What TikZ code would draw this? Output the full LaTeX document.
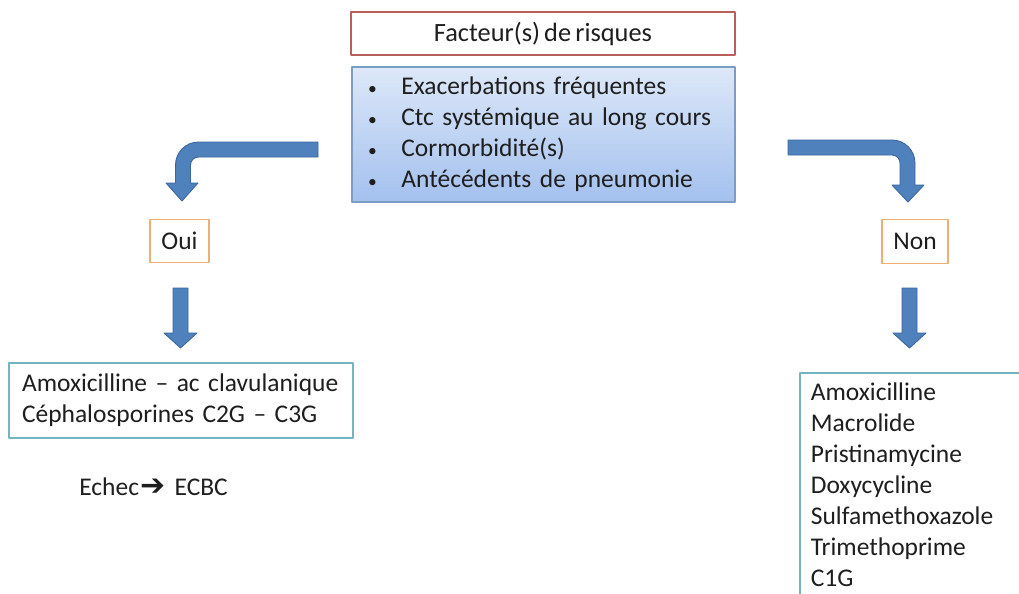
\documentclass[tikz,border=0pt]{standalone}
\usepackage{fontspec}
\setmainfont{Carlito}[WordSpace=0.7]
\newfontfamily\symbfont{DejaVu Sans}
\definecolor{arrowblue}{HTML}{4F81BD}
\definecolor{arrowedge}{HTML}{3A679E}
\definecolor{riskred}{HTML}{B9605C}
\definecolor{factTop}{HTML}{DDE8F8}
\definecolor{factBot}{HTML}{A3C0EE}
\definecolor{factEdge}{HTML}{7C9CC4}
\definecolor{answerorange}{HTML}{EFAE74}
\definecolor{treatteal}{HTML}{72B4BF}
\definecolor{textgray}{HTML}{1E1E1E}
\newcommand\factbullet{\makebox[19pt][l]{\fontsize{10}{10}\selectfont\textbullet}}
\begin{document}
\begin{tikzpicture}[x=0.02cm,y=-0.02cm,line join=round,
	every node/.style={text=textgray,font=\fontsize{14.5}{17.6}\selectfont},
	riskbox/.style={draw=riskred,line width=1pt,fill=white,minimum width=7.68cm,minimum height=0.86cm,font=\fontsize{15}{17.6}\selectfont},
	factbox/.style={draw=factEdge,line width=0.8pt,top color=factTop,bottom color=factBot,text width=7.02cm,inner xsep=0.32cm,minimum height=2.7cm,align=left},
	answer/.style={draw=answerorange,line width=0.8pt,fill=white,minimum height=0.87cm},
	treat/.style={draw=treatteal,line width=1pt,fill=white,inner xsep=0.26cm,align=left},
	blockarrow/.style={fill=arrowblue,draw=arrowedge,line width=0.5pt}]
	\clip (0,0) rectangle (1019,593);
	% risk factors
	\node[riskbox] (risk) at (543,33.5) {Facteur(s) de risques};
	\node[factbox] (facts) at (543.5,134.5) {\factbullet Exacerbations fréquentes\\
		\factbullet Ctc systémique au long cours\\
		\factbullet Cormorbidité(s)\\
		\factbullet Antécédents de pneumonie};
	% bent arrows
	\fill[blockarrow] (318,142) -- (198.5,142) arc[start angle=270,end angle=180,radius=23] -- (175.5,183) -- (166,183) -- (182,201) -- (198,183) -- (190.5,183) -- (190.5,165) arc[start angle=180,end angle=270,radius=8] -- (318,157) -- cycle;
	\fill[blockarrow] (788,140) -- (892,140) arc[start angle=270,end angle=360,radius=23] -- (915,185) -- (924,185) -- (908,202) -- (892,185) -- (900,185) -- (900,163) arc[start angle=0,end angle=-90,radius=8] -- (788,155) -- cycle;
	% answers
	\node[answer,minimum width=1.18cm] (oui) at (179.5,241) {Oui};
	\node[answer,minimum width=1.32cm] (non) at (915,241.5) {Non};
	% down arrows
	\fill[blockarrow] (173,288) -- (188,288) -- (188,333) -- (197,333) -- (180.5,348) -- (164,333) -- (173,333) -- cycle;
	\fill[blockarrow] (902,288) -- (917,288) -- (917,333) -- (926,333) -- (909.5,348) -- (893,333) -- (902,333) -- cycle;
	% treatments
	\node[treat,text width=6.36cm,minimum height=1.5cm] (treatoui) at (181,400.5) {Amoxicilline -- ac clavulanique\\Céphalosporines C2G -- C3G};
	\node[anchor=west,inner xsep=0pt] (echec) at (79,487) {Echec\hspace{1pt}{\symbfont\fontsize{17}{17}\selectfont ➔}\hspace{5pt}ECBC};
	\node[treat,anchor=north west,text width=5cm,inner xsep=0.22cm,inner ysep=0.2cm] (treatnon) at (799,372) {Amoxicilline\\Macrolide\\Pristinamycine\\Doxycycline\\Sulfamethoxazole\\Trimethoprime\\C1G};
\end{tikzpicture}
\end{document}
